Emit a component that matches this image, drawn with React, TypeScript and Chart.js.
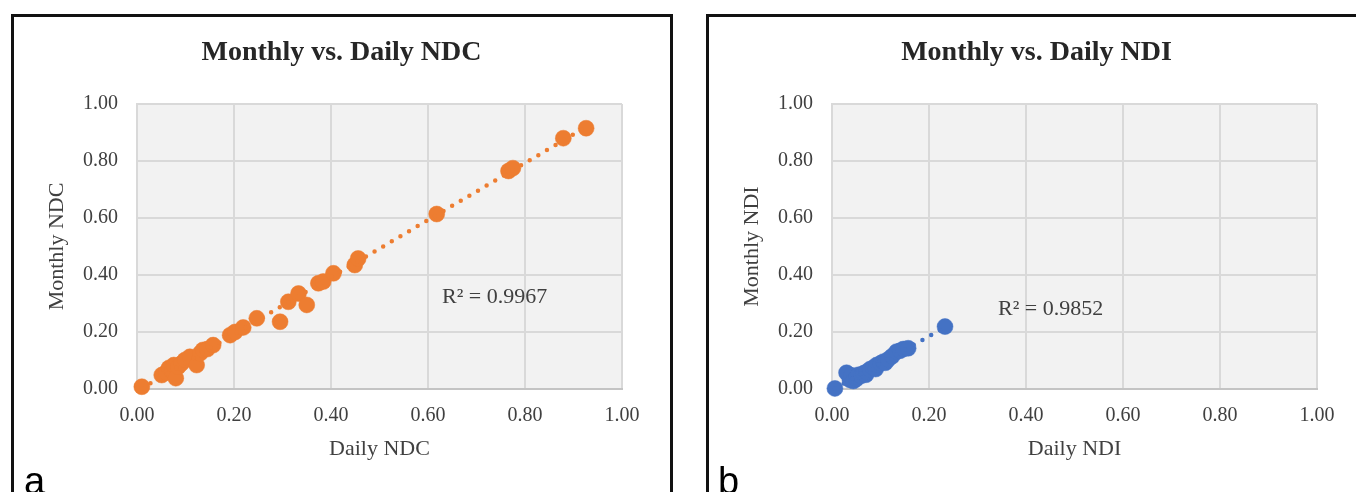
import React, { useEffect, useRef } from "react";
import { Chart, registerables } from "chart.js";

Chart.register(...registerables);

// ---- data ----
const ndcDaily = [0.010, 0.051, 0.060, 0.066, 0.072, 0.076, 0.080, 0.085, 0.092, 0.099, 0.109, 0.123, 0.130, 0.136, 0.145, 0.157, 0.192, 0.202, 0.219, 0.247, 0.295, 0.312, 0.333, 0.350, 0.374, 0.384, 0.405, 0.449, 0.456, 0.618, 0.766, 0.775, 0.879, 0.926];
const ndcMonthly = [0.008, 0.049, 0.058, 0.074, 0.062, 0.084, 0.038, 0.078, 0.090, 0.102, 0.113, 0.084, 0.125, 0.137, 0.140, 0.154, 0.189, 0.200, 0.216, 0.248, 0.236, 0.306, 0.335, 0.295, 0.371, 0.377, 0.406, 0.435, 0.458, 0.614, 0.765, 0.775, 0.880, 0.915];

const ndiDaily = [0.006, 0.030, 0.037, 0.040, 0.044, 0.050, 0.051, 0.055, 0.060, 0.065, 0.070, 0.071, 0.078, 0.085, 0.090, 0.092, 0.100, 0.106, 0.110, 0.116, 0.124, 0.133, 0.140, 0.147, 0.157, 0.233];
const ndiMonthly = [0.002, 0.057, 0.032, 0.048, 0.028, 0.035, 0.043, 0.050, 0.046, 0.055, 0.050, 0.060, 0.069, 0.075, 0.070, 0.084, 0.090, 0.096, 0.092, 0.104, 0.115, 0.131, 0.134, 0.140, 0.143, 0.219];

const axisTicks = [0, 0.2, 0.4, 0.6, 0.8, 1.0];

const ndcR2Label = "R² = 0.9967";
const ndiR2Label = "R² = 0.9852";

const ORANGE = "#ED7D31";
const BLUE = "#4472C4";
const SERIF = "'Liberation Serif', 'DejaVu Serif', serif";
const TEXT = "#404040";

function linearFit(xs: number[], ys: number[]) {
  const n = xs.length;
  let sx = 0, sy = 0, sxx = 0, sxy = 0;
  for (let i = 0; i < n; i++) {
    sx += xs[i]; sy += ys[i]; sxx += xs[i] * xs[i]; sxy += xs[i] * ys[i];
  }
  const slope = (n * sxy - sx * sy) / (n * sxx - sx * sx);
  const intercept = (sy - slope * sx) / n;
  return { slope, intercept };
}

type PanelProps = {
  left: number;
  title: string;
  xTitle: string;
  yTitle: string;
  xs: number[];
  ys: number[];
  color: string;
  r2Text: string;
  r2Dx: number;
  r2Dy: number;
};

const CANVAS_W = 683;
const CANVAS_H = 492;

function ScatterPanel(p: PanelProps) {
  const ref = useRef<HTMLCanvasElement | null>(null);

  useEffect(() => {
    if (!ref.current) return;
    const { slope, intercept } = linearFit(p.xs, p.ys);
    const x0 = Math.min(...p.xs);
    const x1 = Math.max(...p.xs);
    const points = p.xs.map((x, i) => ({ x, y: p.ys[i] }));

    const plotBg = {
      id: "plotBg",
      beforeDraw(chart: any) {
        const { ctx, chartArea } = chart;
        ctx.save();
        ctx.fillStyle = "#F2F2F2";
        ctx.fillRect(chartArea.left, chartArea.top, chartArea.width, chartArea.height);
        ctx.restore();
      },
    };
    const r2Plugin = {
      id: "r2Label",
      afterDatasetsDraw(chart: any) {
        const { ctx, chartArea } = chart;
        ctx.save();
        ctx.font = `22px ${SERIF}`;
        ctx.fillStyle = TEXT;
        ctx.textAlign = "left";
        ctx.textBaseline = "middle";
        ctx.fillText(p.r2Text, chartArea.left + p.r2Dx, chartArea.top + p.r2Dy);
        ctx.restore();
      },
    };

    const tickFont = { family: SERIF, size: 20 };
    const titleFont = { family: SERIF, size: 22 };

    const chart = new Chart(ref.current, {
      type: "scatter",
      data: {
        datasets: [
          {
            label: "trend",
            data: [
              { x: x0, y: slope * x0 + intercept },
              { x: x1, y: slope * x1 + intercept },
            ],
            showLine: true,
            borderColor: p.color,
            borderWidth: 4.5,
            borderDash: [0, 10],
            borderCapStyle: "round",
            pointRadius: 0,
            fill: false,
            clip: false,
          } as any,
          {
            label: "data",
            data: points,
            backgroundColor: p.color,
            borderColor: p.color,
            borderWidth: 0.5,
            pointRadius: 8,
            pointHoverRadius: 8,
            clip: false,
          } as any,
        ],
      },
      options: {
        responsive: false,
        animation: false,
        devicePixelRatio: 1,
        events: [],
        layout: { padding: 0 },
        plugins: {
          legend: { display: false },
          tooltip: { enabled: false },
          title: {
            display: true,
            text: p.title,
            color: "#262626",
            font: { family: SERIF, size: 28, weight: "bold", lineHeight: 1.2 },
            padding: { top: 36.2, bottom: 34.2 },
          },
        },
        scales: {
          x: {
            type: "linear",
            position: "bottom",
            min: 0,
            max: 1,
            afterBuildTicks: (s: any) => {
              s.ticks = axisTicks.map((v) => ({ value: v }));
            },
            afterFit: (s: any) => {
              s.height = 103;
            },
            ticks: {
              callback: (v: any) => Number(v).toFixed(2),
              padding: 14.5,
              color: TEXT,
              font: tickFont,
              maxRotation: 0,
              autoSkip: false,
            },
            grid: { color: "#D9D9D9", lineWidth: 2, drawTicks: false },
            border: { display: true, color: "#C4C4C4", width: 2 },
            title: {
              display: true,
              text: p.xTitle,
              color: TEXT,
              font: titleFont,
              padding: { top: 0, bottom: 29.8 },
            },
          },
          y: {
            type: "linear",
            position: "left",
            min: 0,
            max: 1,
            afterBuildTicks: (s: any) => {
              s.ticks = axisTicks.map((v) => ({ value: v }));
            },
            afterFit: (s: any) => {
              s.width = 137;
            },
            ticks: {
              callback: (v: any) => Number(v).toFixed(2),
              padding: 19,
              color: TEXT,
              font: tickFont,
              autoSkip: false,
            },
            grid: { color: "#D9D9D9", lineWidth: 2, drawTicks: false },
            border: { display: true, color: "#D9D9D9", width: 2 },
            title: {
              display: true,
              text: p.yTitle,
              color: TEXT,
              font: titleFont,
              padding: { top: 43.8, bottom: 0 },
            },
          },
          spacer: {
            type: "linear",
            position: "right",
            display: true,
            min: 0,
            max: 1,
            ticks: { display: false },
            grid: { display: false },
            border: { display: false },
            afterFit: (s: any) => {
              s.width = 61;
            },
          },
        },
      } as any,
      plugins: [plotBg, r2Plugin],
    });
    return () => chart.destroy();
  }, []);

  return (
    <canvas
      ref={ref}
      width={CANVAS_W}
      height={CANVAS_H}
      style={{ position: "absolute", left: p.left, top: 0, width: CANVAS_W, height: CANVAS_H }}
    />
  );
}

const frameStyle = (left: number, width: number): React.CSSProperties => ({
  position: "absolute",
  left,
  top: 14,
  width,
  height: 540,
  border: "3px solid #111",
  boxSizing: "border-box",
  pointerEvents: "none",
});

const letterStyle = (left: number): React.CSSProperties => ({
  position: "absolute",
  left,
  top: 462,
  fontFamily: "'Liberation Sans', Arial, sans-serif",
  fontSize: 38,
  lineHeight: "38px",
  color: "#000",
});

export default function App() {
  useEffect(() => {
    document.body.style.margin = "0";
  }, []);
  return (
    <div
      style={{
        position: "fixed",
        left: 0,
        top: 0,
        width: 1356,
        height: 492,
        overflow: "hidden",
        background: "#fff",
      }}
    >
      <ScatterPanel
        left={0}
        title="Monthly vs. Daily NDC"
        xTitle="Daily NDC"
        yTitle="Monthly NDC"
        xs={ndcDaily}
        ys={ndcMonthly}
        color={ORANGE}
        r2Text={ndcR2Label}
        r2Dx={305}
        r2Dy={193.6}
      />
      <ScatterPanel
        left={695}
        title="Monthly vs. Daily NDI"
        xTitle="Daily NDI"
        yTitle="Monthly NDI"
        xs={ndiDaily}
        ys={ndiMonthly}
        color={BLUE}
        r2Text={ndiR2Label}
        r2Dx={166}
        r2Dy={205.3}
      />
      <div style={frameStyle(11, 662)} />
      <div style={frameStyle(706, 800)} />
      <div style={letterStyle(24)}>a</div>
      <div style={letterStyle(718)}>b</div>
    </div>
  );
}
